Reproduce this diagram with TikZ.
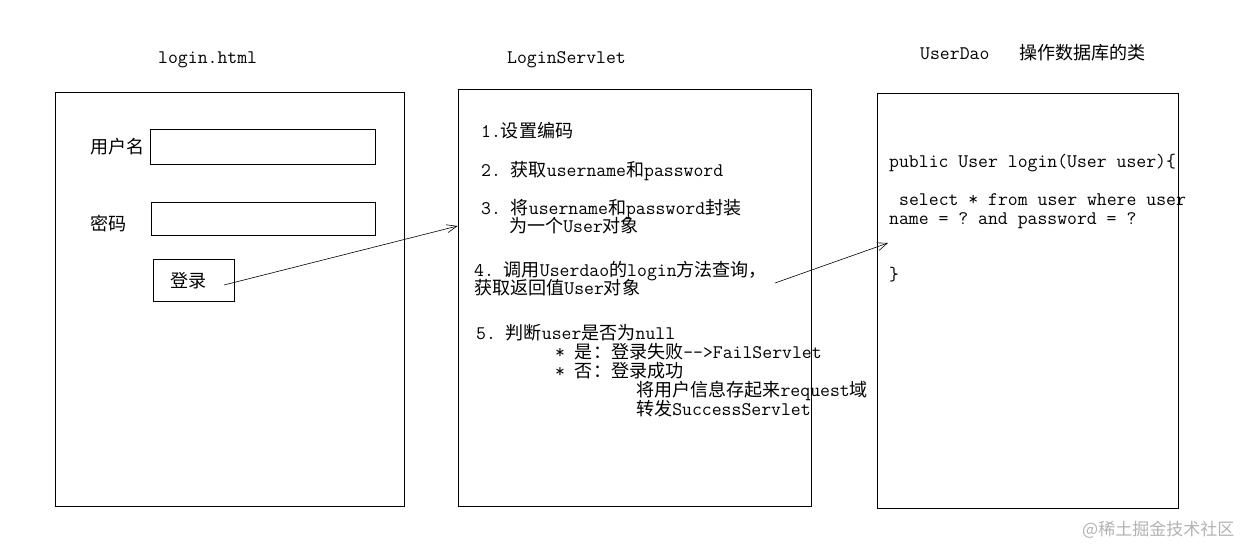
\documentclass[tikz,border=0pt]{standalone}
\usepackage{fontspec}
\setmonofont{Latin Modern Mono}
\newfontfamily\cjkfont{Noto Sans CJK SC}[Scale=0.94]
\newfontfamily\wmfont{Noto Sans CJK SC}
\newcommand\zh[1]{{\cjkfont #1}}
\usetikzlibrary{arrows.meta}
\tikzset{
  box/.style={draw, line width=0.8pt, inner sep=0pt},
  txt/.style={anchor=west, inner sep=0pt, text height=12pt, text depth=0pt,
    font=\ttfamily\fontsize{19.2}{19}\selectfont},
  conn/.style={line width=0.6pt, -{Straight Barb[length=10pt,width=8pt]}}
}
\begin{document}
\begin{tikzpicture}[x=1pt,y=-1pt]
\useasboundingbox (0,0) rectangle (1248,549);
% titles
\node[txt] (t1) at (158,57) {login.html};
\node[txt] (t2) at (507,57) {LoginServlet};
\node[txt] (t3) at (920,53) {UserDao\hspace{30pt}\zh{操作数据库的类}};
% login.html box
\node[box, minimum width=349pt, minimum height=414pt] (login) at (229.5,299) {};
\node[txt] (lu) at (90,147) {\zh{用户名}};
\node[box, minimum width=225pt, minimum height=35pt] (in1) at (262.5,146.5) {};
\node[txt] (lp) at (90,224) {\zh{密码}};
\node[box, minimum width=224pt, minimum height=33pt] (in2) at (263,218.5) {};
\node[box, minimum width=81pt, minimum height=42pt] (btn) at (193.5,280) {};
\node[txt] (lb) at (170,281) {\zh{登录}};
% LoginServlet box
\node[box, minimum width=353pt, minimum height=417pt] (servlet) at (634.5,297.5) {};
\node[txt] (s1) at (481,131) {1.\zh{设置编码}};
\node[txt] (s2) at (481,170) {2. \zh{获取}username\zh{和}password};
\node[txt] (s3) at (481,208) {3. \zh{将}username\zh{和}password\zh{封装}};
\node[txt] (s3b) at (509,226) {\zh{为一个}User\zh{对象}};
\node[txt] (s4) at (474,270) {4. \zh{调用}Userdao\zh{的}login\zh{方法查询，}};
\node[txt] (s4b) at (474,288) {\zh{获取返回值}User\zh{对象}};
\node[txt] (s5) at (476,333) {5. \zh{判断}user\zh{是否为}null};
\node[txt] (s5a) at (555,352) {* \zh{是：登录失败}-->FailServlet};
\node[txt] (s5b) at (555,371) {* \zh{否：登录成功}};
\node[txt] (s5c) at (636,390) {\zh{将用户信息存起来}request\zh{域}};
\node[txt] (s5d) at (636,409) {\zh{转发}SuccessServlet};
% UserDao box
\node[box, minimum width=301pt, minimum height=415pt] (dao) at (1027.5,300.5) {};
\node[txt] (c1) at (889,161) {public User login(User user)\{};
\node[txt] (c2) at (899,199) {select * from user where user};
\node[txt] (c3) at (889,218) {name = ? and password = ?};
\node[txt] (c4) at (889,274) {\}};
% connectors
\coordinate (a1s) at (224,285);
\coordinate (a1e) at (servlet.west |- 0,226);
\draw[conn] (a1s) -- (a1e);
\coordinate (a2s) at (775,283);
\coordinate (a2e) at (888,243);
\draw[conn] (a2s) -- (a2e);
% watermark
\node[anchor=west, inner sep=0pt, text=black!30, font=\wmfont\fontsize{17}{17}\selectfont] (wm) at (1082,530) {@稀土掘金技术社区};
\end{tikzpicture}
\end{document}
